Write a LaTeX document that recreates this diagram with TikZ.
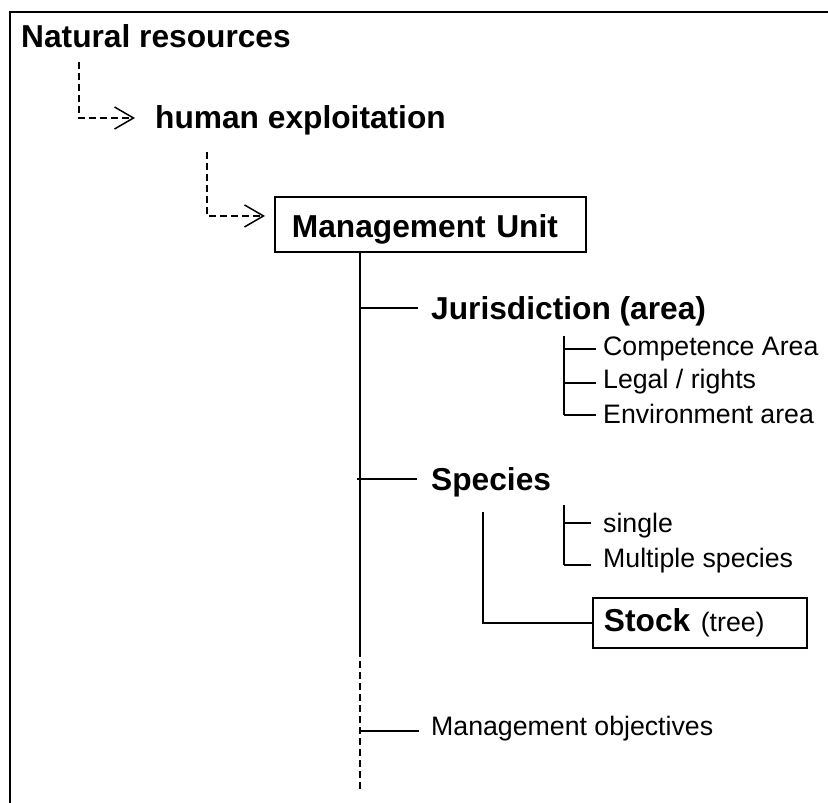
\documentclass[tikz,border=0pt]{standalone}
\usepackage{fontspec}
\setmainfont{Liberation Sans}
\usetikzlibrary{arrows.meta}
\newcommand\headfont{\fontsize{31.7}{36}\selectfont\bfseries}
\newcommand\subfont{\fontsize{26.7}{30}\selectfont}
\tikzset{
  heading/.style={anchor=base west, inner sep=0pt, font=\headfont},
  item/.style={anchor=base west, inner sep=0pt, font=\subfont},
  boxed/.style={draw, line width=1.9pt, inner sep=0pt, align=left, font=\headfont},
  tree/.style={line width=1.8pt},
  dashline/.style={line width=1.5pt, dash pattern=on 7pt off 4pt},
  arr/.style={dashline, -{Straight Barb[length=19pt,width=22pt]}},
  frameline/.style={line width=2.4pt}
}
\begin{document}
\begin{tikzpicture}[x=1pt,y=-1pt]
\useasboundingbox (0,0) rectangle (828,803);
\draw[frameline] (10,803) -- (10,12) -- (828,12);

% texts
\node[heading] (nr) at (21,47) {Natural resources};
\node[heading] (he) at (155,128) {human exploitation};
\node[boxed, anchor=north west, minimum width=311pt, minimum height=55pt,
      text width=277pt, text height=30pt, text depth=3pt] (mu) at (274,196) {Management Unit};
\node[heading] (jur) at (431,319) {Jurisdiction (area)};
\node[item] (comp) at (603,355) {Competence Area};
\node[item] (legal) at (603,388) {Legal / rights};
\node[item] (env) at (603,423) {Environment area};
\node[heading] (spec) at (431,490) {Species};
\node[item] (single) at (603,532) {single};
\node[item] (multi) at (603,567) {Multiple species};
\node[boxed, anchor=north west, minimum width=214pt, minimum height=50pt,
      text width=192pt, text height=24pt, text depth=6pt] (stock) at (592,597)
      {Stock {\mdseries\subfont (tree)}};
\node[item] (obj) at (431,735) {Management objectives};

% dashed arrows
\coordinate (a1) at ([shift={(58pt,-15pt)}]nr.base west);
\coordinate (a1t) at ([shift={(-20pt,10pt)}]he.base west);
\draw[arr] (a1) |- (a1t);
\coordinate (a2) at ([shift={(52pt,-24pt)}]he.base west);
\coordinate (a2t) at ([shift={(-9pt,8.5pt)}]mu.west);
\draw[arr] (a2) |- (a2t);

% trunk
\coordinate (t0) at ([xshift=86pt]mu.south west);
\coordinate (t1) at (360,650);
\coordinate (t2) at (360,790);
\draw[tree] (t0) -- (t1);
\draw[dashline] (t1) -- (t2);

% branches
\coordinate (bj) at (360,308);
\coordinate (bs) at (357,479);
\coordinate (bo) at (360,731);
\draw[tree, shorten >=13pt] (bj) -- (bj -| jur.west);
\draw[tree, shorten >=14pt] (bs) -- (bs -| spec.west);
\draw[tree, shorten >=12pt] (bo) -- (bo -| obj.west);

% jurisdiction bracket
\coordinate (jtop) at (564,336);
\coordinate (j1) at (564,349);
\coordinate (j2) at (564,383);
\coordinate (j3) at (564,415);
\draw[tree] (jtop) -- (j3);
\draw[tree, shorten >=7pt] (j1) -- (j1 -| comp.west);
\draw[tree, shorten >=7pt] (j2) -- (j2 -| legal.west);
\draw[tree, shorten >=7pt] (j3) -- (j3 -| env.west);

% species bracket
\coordinate (stop) at (564,505);
\coordinate (s1) at (564,523);
\coordinate (s2) at (564,565);
\draw[tree] (stop) -- (s2);
\draw[tree, shorten >=12pt] (s1) -- (s1 -| single.west);
\draw[tree, shorten >=12pt] (s2) -- (s2 -| multi.west);

% stock connector
\coordinate (sv) at (483,512);
\draw[tree] (sv) |- (stock.west);
\end{tikzpicture}
\end{document}
